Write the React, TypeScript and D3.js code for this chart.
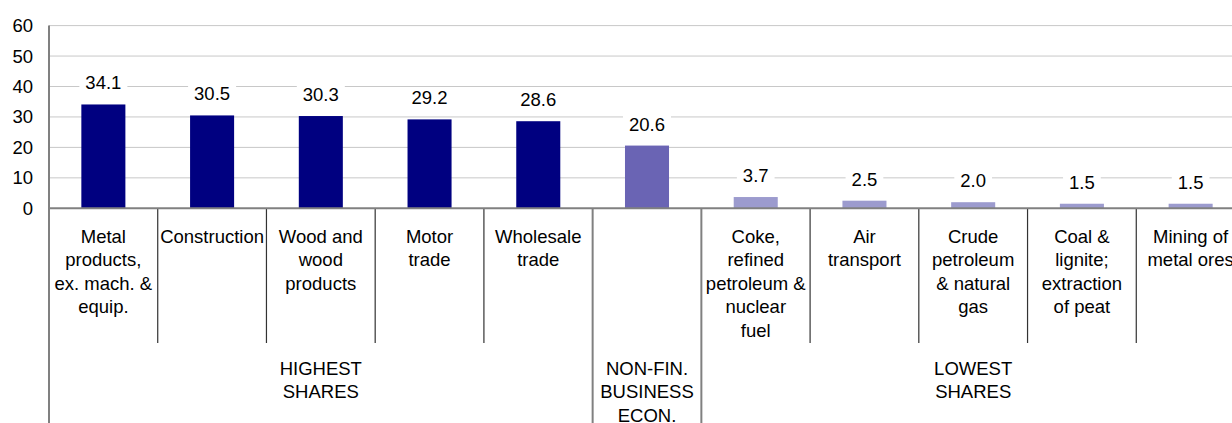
import React, { useEffect, useRef } from 'react';
import * as d3 from 'd3';

// category labels, split into the lines they wrap to
const categoryLines: string[][] = [
  ['Metal', 'products,', 'ex. mach. &', 'equip.'],
  ['Construction'],
  ['Wood and', 'wood', 'products'],
  ['Motor', 'trade'],
  ['Wholesale', 'trade'],
  [],
  ['Coke,', 'refined', 'petroleum &', 'nuclear', 'fuel'],
  ['Air', 'transport'],
  ['Crude', 'petroleum', '& natural', 'gas'],
  ['Coal &', 'lignite;', 'extraction', 'of peat'],
  ['Mining of', 'metal ores'],
];
const values = [34.1, 30.5, 30.3, 29.2, 28.6, 20.6, 3.7, 2.5, 2.0, 1.5, 1.5];
const groupOf = [0, 0, 0, 0, 0, 1, 2, 2, 2, 2, 2];

const groupLines: string[][] = [
  ['HIGHEST', 'SHARES'],
  ['NON-FIN.', 'BUSINESS', 'ECON.'],
  ['LOWEST', 'SHARES'],
];
const groupColors = ['#000080', '#6a64b4', '#9c9bce'];
const yTicks = [0, 10, 20, 30, 40, 50, 60];

const App = () => {
  const ref = useRef<SVGSVGElement>(null);

  useEffect(() => {
    const svg = d3.select(ref.current);
    svg.selectAll('*').remove();

    const left = 49, right = 1245, top = 25.6, base = 208.3, bottom = 423;
    const font = '"Liberation Sans", Arial, sans-serif';
    const fs = 18.5;

    const idx = values.map((_, i) => i);
    const x = d3.scaleBand<number>()
      .domain(idx)
      .range([left, right])
      .paddingInner(0.595)
      .paddingOuter(0.2975);
    const step = x.step();

    const y = d3.scaleLinear().domain([0, 60]).range([base, top]);

    // gridlines
    svg.append('g')
      .selectAll('line')
      .data(yTicks.filter(t => t > 0))
      .join('line')
      .attr('x1', left).attr('x2', right)
      .attr('y1', d => y(d)).attr('y2', d => y(d))
      .attr('stroke', '#c8c8c8').attr('stroke-width', 1);

    // y tick labels
    svg.append('g')
      .selectAll('text')
      .data(yTicks)
      .join('text')
      .attr('x', 33)
      .attr('y', d => y(d) + 6.5)
      .attr('text-anchor', 'end')
      .attr('font-family', font)
      .attr('font-size', fs)
      .attr('fill', '#000')
      .text(d => d);

    // value labels with white boxes over the gridlines
    const lbl = svg.append('g');
    values.forEach((v, i) => {
      const cx = x(i)! + x.bandwidth() / 2;
      const ty = y(v) - 15;
      const g = lbl.append('g');
      const t = g.append('text')
        .attr('x', cx).attr('y', ty)
        .attr('text-anchor', 'middle')
        .attr('font-family', font)
        .attr('font-size', fs)
        .attr('fill', '#000')
        .text(v.toFixed(1));
      const bb = (t.node() as SVGTextElement).getBBox();
      g.insert('rect', 'text')
        .attr('x', bb.x - 6).attr('y', bb.y)
        .attr('width', bb.width + 12).attr('height', bb.height)
        .attr('fill', '#fff');
    });

    // bars
    svg.append('g')
      .selectAll('rect')
      .data(values)
      .join('rect')
      .attr('x', (_, i) => x(i)!)
      .attr('y', d => y(d))
      .attr('width', x.bandwidth())
      .attr('height', d => base - y(d))
      .attr('fill', (_, i) => groupColors[groupOf[i]]);

    // category dividers (short, dark) and group dividers (long, grey)
    const isGroupEdge = (d: number) =>
      d === 0 || d === values.length || groupOf[d] !== groupOf[d - 1];
    svg.append('g')
      .selectAll('line')
      .data(d3.range(values.length + 1))
      .join('line')
      .attr('x1', d => left + d * step).attr('x2', d => left + d * step)
      .attr('y1', base)
      .attr('y2', d => (isGroupEdge(d) ? bottom : 343))
      .attr('stroke', d => (isGroupEdge(d) ? '#808080' : '#333'))
      .attr('stroke-width', d => (isGroupEdge(d) ? 2 : 1.2));

    // y axis line
    svg.append('line')
      .attr('x1', left).attr('x2', left)
      .attr('y1', top).attr('y2', bottom)
      .attr('stroke', '#808080').attr('stroke-width', 2);

    // x axis line
    svg.append('line')
      .attr('x1', left).attr('x2', right)
      .attr('y1', base).attr('y2', base)
      .attr('stroke', '#808080').attr('stroke-width', 2);

    // category labels
    const lineH = 23.5;
    categoryLines.forEach((lines, i) => {
      const cx = x(i)! + x.bandwidth() / 2;
      lines.forEach((ln, j) => {
        svg.append('text')
          .attr('x', cx).attr('y', 242.5 + j * lineH)
          .attr('text-anchor', 'middle')
          .attr('font-family', font)
          .attr('font-size', fs)
          .attr('fill', '#000')
          .text(ln);
      });
    });

    // group labels
    groupLines.forEach((lines, gi) => {
      const members = idx.filter(i => groupOf[i] === gi);
      const x0 = left + d3.min(members)! * step;
      const x1 = left + (d3.max(members)! + 1) * step;
      const cx = (x0 + x1) / 2;
      lines.forEach((ln, j) => {
        svg.append('text')
          .attr('x', cx).attr('y', 374.5 + j * lineH)
          .attr('text-anchor', 'middle')
          .attr('font-family', font)
          .attr('font-size', fs)
          .attr('fill', '#000')
          .text(ln);
      });
    });
  }, []);

  return (
    <svg
      ref={ref}
      width={1232}
      height={423}
      style={{ position: 'absolute', left: 0, top: 0, background: '#fff' }}
    />
  );
};

export default App;
